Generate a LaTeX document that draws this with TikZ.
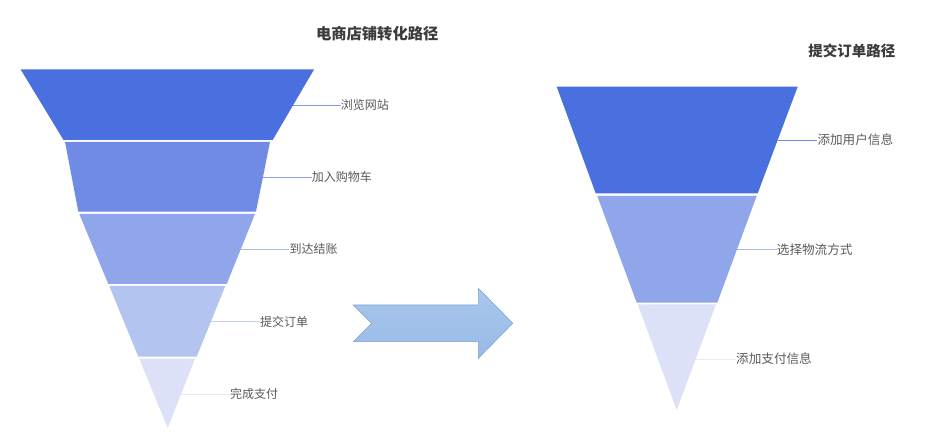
\documentclass[tikz,border=0pt]{standalone}
\usepackage{fontspec}
\newfontfamily\cjk{Noto Sans CJK SC}
\definecolor{b1}{RGB}{74,111,222}
\definecolor{b2}{RGB}{112,139,230}
\definecolor{b3}{RGB}{143,167,234}
\definecolor{b4}{RGB}{180,196,240}
\definecolor{b5}{RGB}{220,225,247}
\definecolor{txt}{RGB}{90,90,90}
\definecolor{ttl}{RGB}{60,60,60}
\definecolor{arrowA}{RGB}{170,199,236}
\definecolor{arrowB}{RGB}{150,186,230}
\definecolor{arrowE}{RGB}{125,163,216}
\tikzset{
  lab/.style={anchor=west, inner sep=0pt, text=txt, font=\cjk\fontsize{12}{12}\selectfont},
  labr/.style={anchor=west, inner sep=0pt, text=txt, font=\cjk\fontsize{12.6}{12.6}\selectfont},
  ttlstyle/.style={inner sep=0pt, text=ttl, font=\cjk\bfseries\fontsize{15.3}{15.3}\selectfont},
  conn/.style={line width=0.9pt}
}
\begin{document}
\begin{tikzpicture}[x=1pt,y=-1pt]
\useasboundingbox (0,0) rectangle (945,443);
\fill[white] (0,0) rectangle (945,443);
% titles
\node[ttlstyle] (t1) at (377.2,33.3) {电商店铺转化路径};
\node[ttlstyle, font=\cjk\bfseries\fontsize{14.5}{14.5}\selectfont] (t2) at (851.8,50.7) {提交订单路径};
% left funnel
\fill[b1] (20.7,69.5) -- (314,69.5) -- (272.7,140) -- (63.5,140) -- cycle;
\fill[b2] (65,141.8) -- (270,141.8) -- (256,211.7) -- (78.3,211.7) -- cycle;
\fill[b3] (79.3,214) -- (255,214) -- (226.7,284) -- (108.3,284) -- cycle;
\fill[b4] (109.3,286) -- (225.3,286) -- (196.7,356.7) -- (138.3,356.7) -- cycle;
\fill[b5] (139.3,358.7) -- (195,358.7) -- (167.7,428) -- cycle;
\coordinate (c1) at (293.3,105);
\coordinate (c2) at (262.9,177.3);
\coordinate (c3) at (240.7,249.3);
\coordinate (c4) at (210.9,321.7);
\coordinate (c5) at (181.0,394.3);
\node[lab] (l1) at (340.7,105) {浏览网站};
\node[lab] (l2) at (311.7,177.3) {加入购物车};
\node[lab] (l3) at (289.3,249.3) {到达结账};
\node[lab] (l4) at (260,321.7) {提交订单};
\node[lab] (l5) at (230,394.3) {完成支付};
\draw[conn, b1!70] (c1) -- (l1.west);
\draw[conn, b2!80] (c2) -- (l2.west);
\draw[conn, b3!80] (c3) -- (l3.west);
\draw[conn, b4!80] (c4) -- (l4.west);
\draw[conn, b5!70] (c5) -- (l5.west);
% arrow
\path[top color=arrowA, bottom color=arrowB, draw=arrowE, line width=0.6pt]
  (353.3,305) -- (478.3,305) -- (478.3,288.3) -- (512.7,323.3) -- (478.3,358.3)
  -- (478.3,341.7) -- (353.3,341.7) -- (371.7,323.3) -- cycle;
% right funnel
\fill[b1] (556.7,86.7) -- (797.7,86.7) -- (757.7,193.3) -- (595.7,193.3) -- cycle;
\fill[b3] (597.3,196) -- (756.7,196) -- (717.3,302.7) -- (636.7,302.7) -- cycle;
\fill[b5] (637.7,304.3) -- (716,304.3) -- (676.7,410) -- cycle;
\coordinate (r1) at (777.7,140);
\coordinate (r2) at (737,249.3);
\coordinate (r3) at (695.7,359);
\node[labr] (m1) at (817.3,140) {添加用户信息};
\node[labr] (m2) at (776.7,249.3) {选择物流方式};
\node[labr] (m3) at (736,359) {添加支付信息};
\draw[conn, b1!80] (r1) -- (m1.west);
\draw[conn, b3!80] (r2) -- (m2.west);
\draw[conn, b5!70] (r3) -- (m3.west);
\end{tikzpicture}
\end{document}
